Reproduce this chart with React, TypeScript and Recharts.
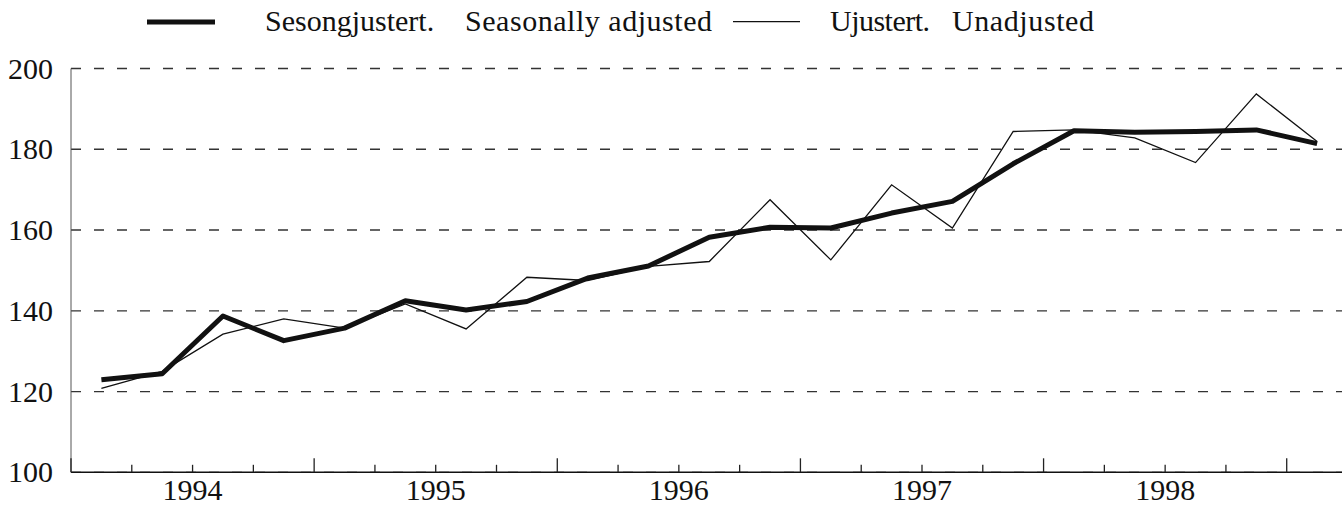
import React from 'react';
import { LineChart, Line, XAxis, YAxis, CartesianGrid } from 'recharts';

const quarters = [
  '1994K1', '1994K2', '1994K3', '1994K4',
  '1995K1', '1995K2', '1995K3', '1995K4',
  '1996K1', '1996K2', '1996K3', '1996K4',
  '1997K1', '1997K2', '1997K3', '1997K4',
  '1998K1', '1998K2', '1998K3', '1998K4',
  '1999K1',
];

const sesongjustert = [
  122.9, 124.4, 138.7, 132.6, 135.7, 142.5, 140.2, 142.3, 148.1, 151.1, 158.2,
  160.7, 160.5, 164.2, 167.1, 176.4, 184.6, 184.2, 184.4, 184.8, 181.4,
];

const ujustert = [
  120.8, 125.0, 134.2, 138.0, 135.7, 141.7, 135.5, 148.3, 147.5, 151.0, 152.2,
  167.5, 152.6, 171.2, 160.5, 184.4, 184.8, 182.8, 176.7, 193.7, 181.9,
];

const yearLabels = ['1994', '1995', '1996', '1997', '1998'];
const yTicks = [100, 120, 140, 160, 180, 200];
const xTicks = Array.from({ length: 22 }, (_, i) => i);

const data = quarters.map((q, i) => ({
  q,
  t: i + 0.5,
  sesong: sesongjustert[i],
  ujust: ujustert[i],
}));

const FONT = 'Liberation Serif, Tinos, Times New Roman, DejaVu Serif, serif';
const textStyle: React.CSSProperties = { fontFamily: FONT, fontSize: 30 };

const XTick = (props: any) => {
  const { x, y, payload } = props;
  const t = payload.value as number;
  const major = t % 4 === 0;
  const label = t % 4 === 2 ? yearLabels[(t - 2) / 4] : null;
  return (
    <g>
      <line x1={x} x2={x} y1={y} y2={y - (major ? 14 : 7.5)} stroke="#222" strokeWidth={1.3} />
      {label && (
        <text x={x} y={y + 27.2} textAnchor="middle" style={textStyle} fill="#111">
          {label}
        </text>
      )}
    </g>
  );
};

const YTick = (props: any) => {
  const { x, y, payload } = props;
  return (
    <text x={x} y={y} dy={10} textAnchor="end" style={textStyle} fill="#111">
      {payload.value}
    </text>
  );
};

export default function App() {
  return (
    <div
      style={{
        position: 'fixed',
        left: 0,
        top: 0,
        width: 1342,
        height: 506,
        overflow: 'hidden',
        background: '#fff',
        fontFamily: FONT,
      }}
    >
      <LineChart
        width={1348}
        height={506}
        data={data}
        margin={{ top: 68.5, right: 0.5, bottom: 0, left: 0 }}
      >
        <CartesianGrid
          vertical={false}
          stroke="#333"
          strokeWidth={1.3}
          strokeDasharray="10 13"
        />
        <XAxis
          dataKey="t"
          type="number"
          domain={[0, 21]}
          ticks={xTicks}
          interval={0}
          height={33.7}
          tickSize={0}
          tickMargin={0}
          tick={<XTick />}
          axisLine={{ stroke: '#111', strokeWidth: 1.6 }}
          allowDataOverflow
        />
        <YAxis
          domain={[100, 200]}
          ticks={yTicks}
          width={71}
          tickSize={0}
          tickMargin={18}
          axisLine={{ stroke: '#555', strokeWidth: 1 }}
          tick={<YTick />}
          allowDataOverflow
        />
        <Line
          type="linear"
          dataKey="ujust"
          stroke="#111"
          strokeWidth={1.3}
          dot={false}
          isAnimationActive={false}
        />
        <Line
          type="linear"
          dataKey="sesong"
          stroke="#111"
          strokeWidth={5}
          strokeLinejoin="round"
          dot={false}
          isAnimationActive={false}
        />
      </LineChart>
      <svg
        width={1342}
        height={50}
        style={{ position: 'absolute', left: 0, top: 0, pointerEvents: 'none' }}
      >
        <line x1={147} x2={215} y1={22} y2={22} stroke="#111" strokeWidth={5} />
        <text x={265} y={31} style={textStyle} fill="#111">Sesongjustert.</text>
        <text x={465} y={31} style={textStyle} fill="#111" textLength={247}>Seasonally adjusted</text>
        <line x1={733} x2={800} y1={21.7} y2={21.7} stroke="#111" strokeWidth={1.3} />
        <text x={830} y={31} style={textStyle} fill="#111" textLength={100}>Ujustert.</text>
        <text x={952} y={31} style={textStyle} fill="#111" textLength={142}>Unadjusted</text>
      </svg>
    </div>
  );
}
